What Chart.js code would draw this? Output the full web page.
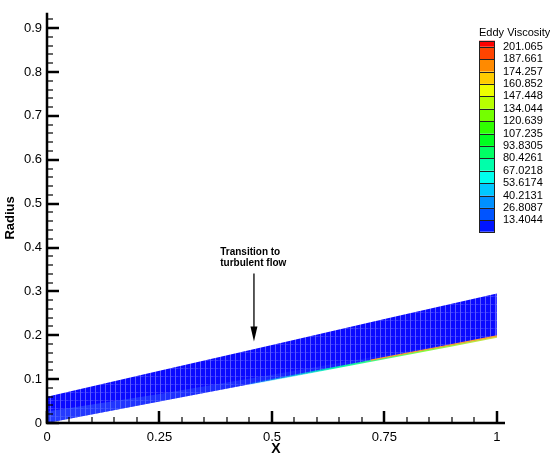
<!DOCTYPE html>
<html>
<head>
<meta charset="utf-8">
<script src="https://cdn.jsdelivr.net/npm/chart.js@4.4.0/dist/chart.umd.min.js"></script>
<style>
  body { margin: 0; background: #fff; }
  #wrap { width: 550px; height: 468px; }
</style>
</head>
<body>
<div id="wrap"><canvas id="eddyChart" width="550" height="468"></canvas></div>
<script>
// stations along the axis and the two walls of the cone
const stations = [0, 0.25, 0.5, 0.75, 1];
const outerRadius = [0.06, 0.119, 0.178, 0.237, 0.295];
const innerRadius = [0, 0.049, 0.098, 0.147, 0.196];

// lighter region close to the inner wall near the inlet
const bufferStations = [0, 0.25, 0.5, 0.75, 1];
const bufferRadius = [0.026, 0.066, 0.11, 0.155, 0.2];

// thin high viscosity layer hugging the inner wall
const wallStations = [0.45, 0.6, 0.75, 0.9, 1];
const wallRadius = [0.0885, 0.1185, 0.1475, 0.1765, 0.1965];
const wallPeakStations = [0.72, 0.86, 1];
const wallPeakRadius = [0.1435, 0.171, 0.1985];

// contour legend
const legendTitle = 'Eddy Viscosity';
const levelLabels = ['201.065', '187.661', '174.257', '160.852', '147.448', '134.044', '120.639',
  '107.235', '93.8305', '80.4261', '67.0218', '53.6174', '40.2131', '26.8087', '13.4044'];
const levelColors = ['#ff0000', '#ff4400', '#ff8a00', '#ffcc00', '#eeff00', '#b8ff00', '#74ff00', '#30ff00',
  '#00ff20', '#00ff64', '#00ffaa', '#00ffee', '#00c8ff', '#0090ff', '#0054ff', '#0014ff'];

// axes
const xTicks = [0, 0.25, 0.5, 0.75, 1];
const yTicks = [0, 0.1, 0.2, 0.3, 0.4, 0.5, 0.6, 0.7, 0.8, 0.9];

// annotation
const noteLines = ['Transition to', 'turbulent flow'];
const noteTextX = 0.385;
const noteTextY = [0.39, 0.365];
const arrowX = 0.46;
const arrowTop = 0.341;
const arrowTip = 0.186;

const FONT = '"Liberation Sans", Arial, sans-serif';

const canvas = document.getElementById('eddyChart');
const ctx = canvas.getContext('2d');

// mesh look of the filled contour
function meshPattern() {
    const c = document.createElement('canvas');
    c.width = 5; c.height = 8;
    const g = c.getContext('2d');
    g.fillStyle = '#0a0aff'; g.fillRect(0, 0, 5, 8);
    g.fillStyle = '#5a5aff'; g.fillRect(0, 0, 1, 8);
    g.fillStyle = '#3838ff'; g.fillRect(1, 0, 2, 1);
    g.fillStyle = '#2424ff'; g.fillRect(3, 0, 2, 1);
    return ctx.createPattern(c, 'repeat');
}

function pts(xs, ys) {
    return xs.map((x, i) => ({ x: x, y: ys[i] }));
}

function wallGradient(context) {
    const chart = context.chart;
    const a = chart.chartArea;
    if (!a) return '#00ff80';
    const x = chart.scales.x;
    const g = chart.ctx.createLinearGradient(x.getPixelForValue(0.45), 0, x.getPixelForValue(1), 0);
    g.addColorStop(0, 'rgba(0,220,255,0.2)');
    g.addColorStop(0.35, 'rgba(0,255,170,0.9)');
    g.addColorStop(0.7, '#80ff40');
    g.addColorStop(1, '#d0e040');
    return g;
}

function bufferFill(context) {
    const chart = context.chart;
    if (!chart.chartArea) return 'rgba(60,110,255,0.3)';
    const x = chart.scales.x;
    const g = chart.ctx.createLinearGradient(x.getPixelForValue(0), 0, x.getPixelForValue(1), 0);
    g.addColorStop(0, 'rgba(70,120,255,0.45)');
    g.addColorStop(0.5, 'rgba(70,120,255,0.25)');
    g.addColorStop(1, 'rgba(70,120,255,0.05)');
    return g;
}

// axis lines and inward tick marks, drawn over the fill
const axisDecor = {
    id: 'axisDecor',
    afterDatasetsDraw(chart) {
        const { ctx, chartArea: a, scales: { x, y } } = chart;
        ctx.save();
        ctx.strokeStyle = '#000';
        ctx.lineCap = 'butt';
        for (let i = 0; i <= 20; i++) {
            const major = i % 5 === 0;
            const px = Math.round(x.getPixelForValue(i * 0.05));
            ctx.lineWidth = major ? 2.5 : 1.2;
            ctx.beginPath();
            ctx.moveTo(px, a.bottom);
            ctx.lineTo(px, a.bottom - (major ? 12 : 6));
            ctx.stroke();
        }
        for (let i = 0; i <= 46; i++) {
            const major = i % 5 === 0;
            const py = Math.round(y.getPixelForValue(i * 0.02));
            ctx.lineWidth = major ? 2.5 : 1.2;
            ctx.beginPath();
            ctx.moveTo(a.left, py);
            ctx.lineTo(a.left + (major ? 12 : 6), py);
            ctx.stroke();
        }
        ctx.lineWidth = 2.5;
        ctx.beginPath();
        ctx.moveTo(a.left, a.top);
        ctx.lineTo(a.left, a.bottom);
        ctx.lineTo(a.right, a.bottom);
        ctx.stroke();

        // annotation text and arrow
        ctx.fillStyle = '#000';
        ctx.font = 'bold 10px ' + FONT;
        ctx.textAlign = 'left';
        ctx.textBaseline = 'middle';
        noteLines.forEach((t, i) => {
            ctx.fillText(t, x.getPixelForValue(noteTextX), y.getPixelForValue(noteTextY[i]));
        });
        const ax = x.getPixelForValue(arrowX);
        const top = y.getPixelForValue(arrowTop);
        const tip = y.getPixelForValue(arrowTip);
        ctx.lineWidth = 1.3;
        ctx.beginPath();
        ctx.moveTo(ax, top);
        ctx.lineTo(ax, tip - 12);
        ctx.stroke();
        ctx.beginPath();
        ctx.moveTo(ax - 3.5, tip - 15);
        ctx.lineTo(ax + 3.5, tip - 15);
        ctx.lineTo(ax, tip);
        ctx.closePath();
        ctx.fill();
        ctx.restore();
    }
};

// color bar legend on the right
const colorBar = {
    id: 'colorBar',
    afterDraw(chart) {
        const c = chart.ctx;
        const left = 479, w = 16, top = 40.7, bottom = 231.7;
        const first = 46.7, step = 12.4;
        const edges = [top];
        levelLabels.forEach((l, i) => edges.push(first + step * i));
        edges.push(bottom);
        c.save();
        levelColors.forEach((col, i) => {
            c.fillStyle = col;
            c.fillRect(left, edges[i], w, edges[i + 1] - edges[i]);
        });
        c.strokeStyle = '#222';
        c.lineWidth = 1;
        edges.forEach(e => {
            c.beginPath();
            c.moveTo(left, Math.round(e) + 0.5);
            c.lineTo(left + w, Math.round(e) + 0.5);
            c.stroke();
        });
        c.strokeRect(left + 0.5, Math.round(top) + 0.5, w - 1, Math.round(bottom) - Math.round(top));
        c.fillStyle = '#000';
        c.font = '11px ' + FONT;
        c.textBaseline = 'middle';
        c.textAlign = 'left';
        c.fillText(legendTitle, left, 33);
        levelLabels.forEach((l, i) => c.fillText(l, 503, first + step * i));
        c.restore();
    }
};

new Chart(canvas, {
    type: 'scatter',
    data: {
        datasets: [
            {
                label: 'wall peak',
                data: pts(wallPeakStations, wallPeakRadius),
                showLine: true,
                borderColor: '#ff9a30',
                borderWidth: 1.2,
                pointRadius: 0,
                fill: false
            },
            {
                label: 'wall layer',
                data: pts(wallStations, wallRadius),
                showLine: true,
                borderColor: wallGradient,
                borderWidth: 1.8,
                pointRadius: 0,
                fill: false
            },
            {
                label: 'buffer',
                data: pts(bufferStations, bufferRadius),
                showLine: true,
                borderWidth: 0,
                pointRadius: 0,
                backgroundColor: bufferFill,
                fill: 3
            },
            {
                label: 'inner wall',
                data: pts(stations, innerRadius),
                showLine: true,
                borderWidth: 0,
                pointRadius: 0,
                fill: false
            },
            {
                label: 'Eddy Viscosity',
                data: pts(stations, outerRadius),
                showLine: true,
                borderWidth: 0,
                pointRadius: 0,
                backgroundColor: meshPattern(),
                fill: 3
            }
        ]
    },
    options: {
        responsive: false,
        animation: false,
        layout: { padding: { left: 0, top: 5, right: 45, bottom: 0 } },
        plugins: {
            legend: { display: false },
            tooltip: { enabled: false }
        },
        scales: {
            x: {
                type: 'linear',
                min: 0,
                max: 1.018,
                afterBuildTicks: s => { s.ticks = xTicks.map(v => ({ value: v })); },
                afterFit: s => { s.height = 45; },
                grid: { display: false, drawTicks: false },
                border: { display: false },
                ticks: {
                    padding: 7,
                    color: '#000',
                    font: { family: FONT, size: 13 },
                    callback: v => String(v),
                    maxRotation: 0
                },
                title: {
                    display: true,
                    text: 'X',
                    color: '#000',
                    font: { family: FONT, size: 14, weight: 'bold' },
                    padding: { top: 0, bottom: 10 }
                }
            },
            y: {
                type: 'linear',
                min: 0,
                max: 0.935,
                afterBuildTicks: s => { s.ticks = yTicks.map(v => ({ value: v })); },
                afterFit: s => { s.width = 47; },
                grid: { display: false, drawTicks: false },
                border: { display: false },
                ticks: {
                    padding: 5,
                    color: '#000',
                    font: { family: FONT, size: 13 },
                    callback: v => String(v)
                },
                title: {
                    display: true,
                    text: 'Radius',
                    color: '#000',
                    font: { family: FONT, size: 13, weight: 'bold' },
                    padding: { top: 3, bottom: 0 }
                }
            }
        }
    },
    plugins: [axisDecor, colorBar]
});
</script>
</body>
</html>
